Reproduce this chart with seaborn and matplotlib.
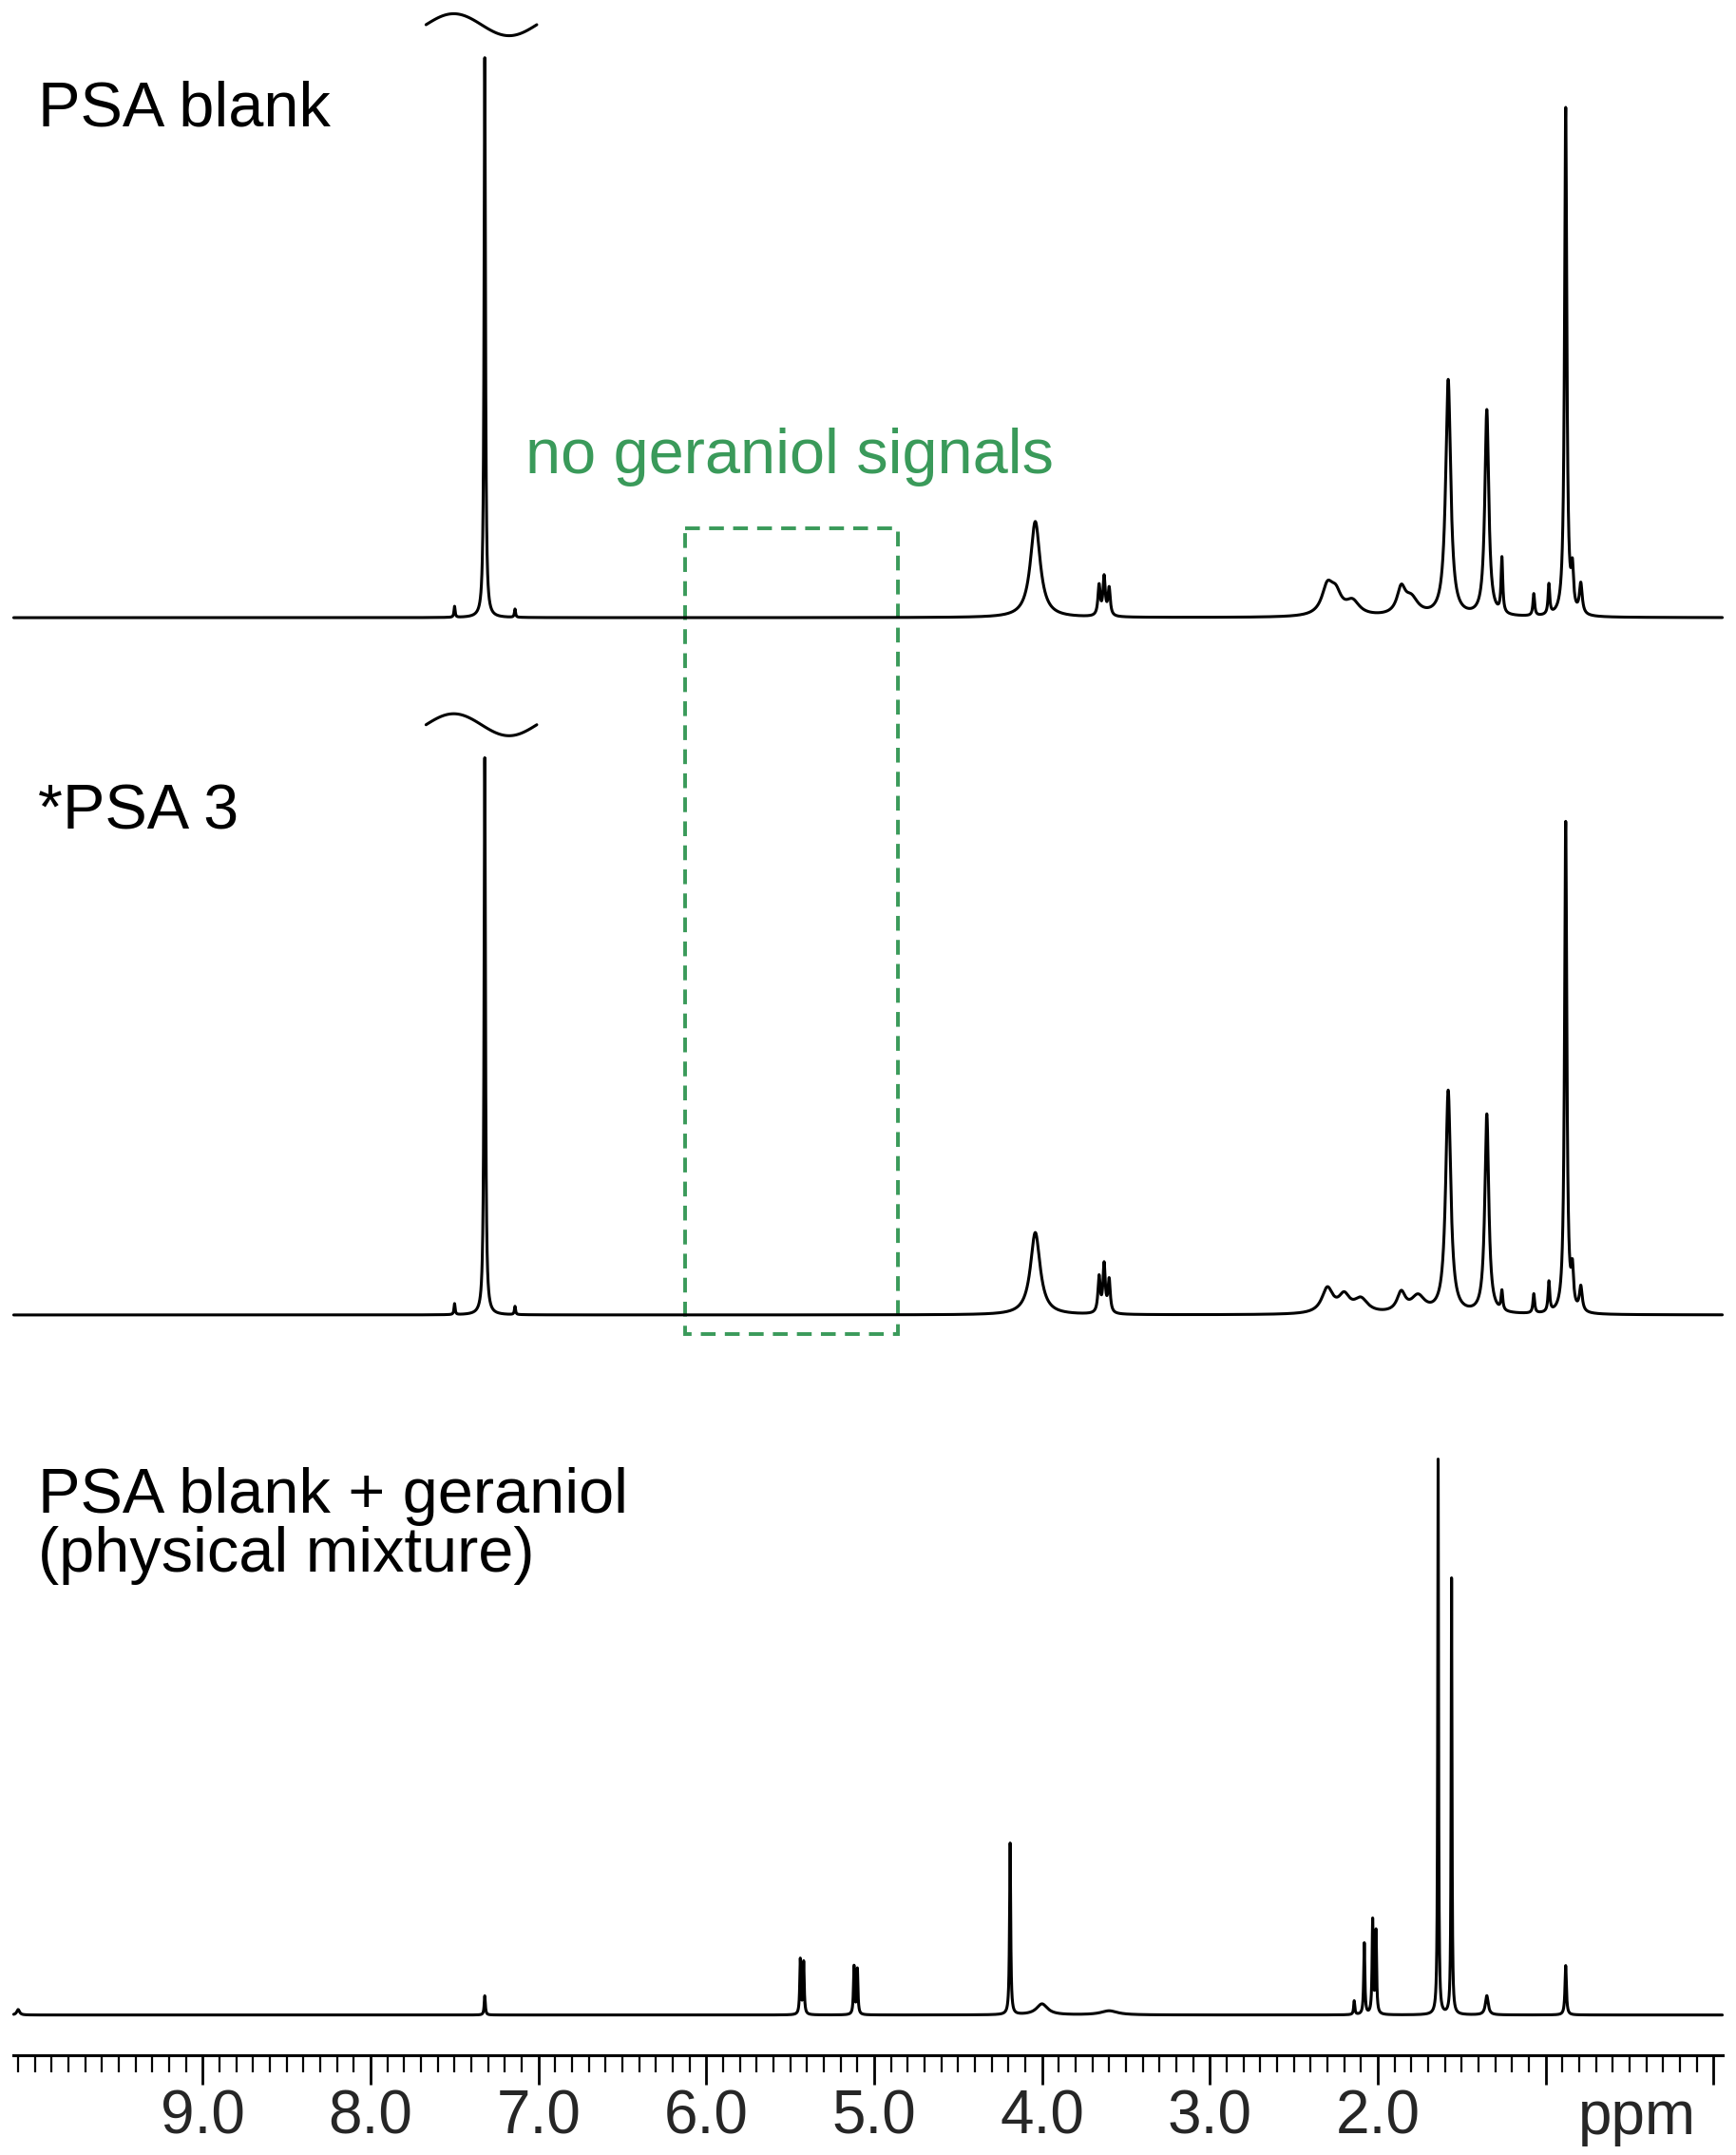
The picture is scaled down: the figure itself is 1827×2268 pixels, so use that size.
import numpy as np
import pandas as pd
import matplotlib
matplotlib.use("Agg")
import matplotlib.pyplot as plt
import seaborn as sns

# ---- data (ppm, height in display units, half-width ppm) ----
blank_pos = [7.50, 7.32, 7.14, 4.04, 3.66, 3.63, 3.60, 2.30, 2.25, 2.15, 1.86, 1.80, 1.58, 1.35, 1.26, 1.07, 0.98, 0.88, 0.84, 0.79]
blank_h   = [8, 408, 6, 70, 22, 28, 20, 20, 14, 10, 18, 12, 172, 150, 40, 16, 22, 370, 28, 22]
blank_w   = [0.004, 0.005, 0.004, 0.035, 0.008, 0.008, 0.008, 0.04, 0.04, 0.05, 0.03, 0.05, 0.018, 0.014, 0.006, 0.006, 0.006, 0.008, 0.008, 0.01]

psa3_pos = [7.50, 7.32, 7.14, 4.04, 3.66, 3.63, 3.60, 2.30, 2.20, 2.10, 1.86, 1.76, 1.58, 1.35, 1.26, 1.07, 0.98, 0.88, 0.84, 0.79]
psa3_h   = [8, 406, 6, 60, 26, 35, 24, 18, 12, 10, 14, 12, 162, 145, 14, 14, 22, 358, 26, 18]
psa3_w   = [0.004, 0.005, 0.004, 0.035, 0.008, 0.008, 0.008, 0.04, 0.04, 0.05, 0.03, 0.05, 0.018, 0.014, 0.006, 0.006, 0.006, 0.008, 0.008, 0.01]

mix_pos = [10.1, 7.32, 5.44, 5.42, 5.12, 5.10, 4.19, 4.00, 3.60, 2.14, 2.08, 2.03, 2.01, 1.64, 1.56, 1.35, 0.88]
mix_h   = [4, 14, 40, 38, 35, 33, 125, 8, 3, 10, 52, 68, 60, 405, 318, 14, 36]
mix_w   = [0.01, 0.004, 0.004, 0.004, 0.004, 0.004, 0.004, 0.04, 0.06, 0.004, 0.004, 0.004, 0.004, 0.003, 0.003, 0.01, 0.005]

baselines = [450, 958, 1468]
labels = ["PSA blank", "*PSA 3", "PSA blank + geraniol\n(physical mixture)"]
label_y = [80, 592, 1112]
major_ticks = [9.0, 8.0, 7.0, 6.0, 5.0, 4.0, 3.0, 2.0, 1.0, 0.0]
major_labels = ["9.0", "8.0", "7.0", "6.0", "5.0", "4.0", "3.0", "2.0", "", ""]
minor_ticks = np.round(np.arange(0.0, 10.11, 0.1), 1)

sns.set_theme(style="white")
plt.rcParams['font.family'] = ['Liberation Sans', 'DejaVu Sans']

W, H = 1267, 1570
def ppm(x):
    return 9.0 - (x - 148) / 122.5

fig = plt.figure(figsize=(18.27, 22.68), dpi=100)
ax = fig.add_axes([0, 0, 1, 1])
ax.set_xlim(ppm(0), ppm(W))
ax.set_ylim(H, 0)
ax.axis("off")

xg = np.linspace(ppm(10), ppm(1257), 40000)
def spec(pos, h, w):
    y = np.zeros_like(xg)
    for p, hh, ww in zip(pos, h, w):
        y += hh * ww**2 / ((xg - p)**2 + ww**2)
    return y

for (pos, h, w), b in zip([(blank_pos, blank_h, blank_w), (psa3_pos, psa3_h, psa3_w), (mix_pos, mix_h, mix_w)], baselines):
    df = pd.DataFrame({"ppm": xg, "y": b - spec(pos, h, w)})
    sns.lineplot(data=df, x="ppm", y="y", ax=ax, color="black", linewidth=2.2, sort=False, estimator=None)

# break marks above truncated peaks
t = np.linspace(-1, 1, 100)
for yb in [18, 528]:
    ax.plot(7.34 - 0.33 * t, yb + 8 * np.sin(np.pi * t), color="black", lw=2.2)

for lab, yy in zip(labels, label_y):
    ax.text(ppm(28), yy, lab, fontsize=48, va="center", ha="left", color="black", linespacing=1.0)

green = "#3a9a5a"
ax.add_patch(plt.Rectangle((ppm(500), 385), ppm(655) - ppm(500), 972 - 385, fill=False,
                           edgecolor=green, linestyle=(0, (4, 2.5)), linewidth=2.8))
ax.text(ppm(576), 333, "no geraniol signals", fontsize=48, color=green, ha="center", va="center")

# ppm axis
ax2 = fig.add_axes([10 / W, 1 - 1497 / H, 1247 / W, 0.0001])
ax2.set_xlim(ppm(10), ppm(1257))
ax2.set_yticks([])
for s in ["top", "left", "right"]:
    ax2.spines[s].set_visible(False)
ax2.spines["bottom"].set_linewidth(2.2)
ax2.spines["bottom"].set_color("black")
ax2.set_facecolor("none")
ax2.set_xticks(major_ticks)
ax2.set_xticklabels(major_labels, fontsize=46)
ax2.set_xticks(minor_ticks, minor=True)
ax2.tick_params(axis="x", which="major", direction="out", length=22, width=2.0, color="black", pad=4, bottom=True)
ax2.tick_params(axis="x", which="minor", direction="out", length=13, width=1.6, color="black", bottom=True)
ax.text(ppm(1195), 1543, "ppm", fontsize=46, ha="center", va="center")

fig.savefig("out.png", dpi=100)
